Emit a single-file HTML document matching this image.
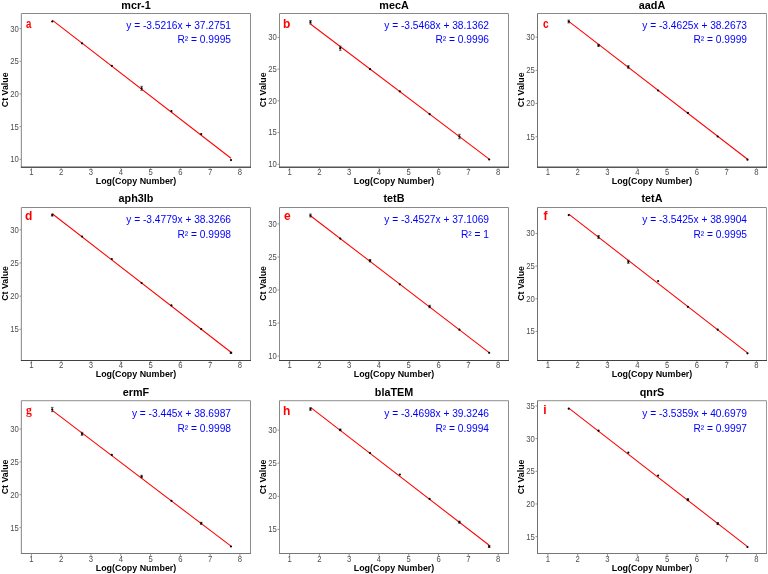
<!DOCTYPE html>
<html><head><meta charset="utf-8"><style>
html,body{margin:0;padding:0;background:#fff;}
svg{display:block;will-change:transform;}
text{font-family:"Liberation Sans",sans-serif;}
.tt{font-size:10.4px;font-weight:bold;text-anchor:middle;fill:#000;}
.at{font-size:9.3px;font-weight:bold;fill:#000;}
.yl{font-size:8.4px;text-anchor:end;fill:#4d4d4d;}
.xl{font-size:8.4px;text-anchor:middle;fill:#4d4d4d;}
.tk{stroke:#4d4d4d;stroke-width:0.6;}
.bd{fill:none;stroke:#8c8c8c;stroke-width:1;}
.bd2{fill:none;stroke:#7a7a7a;stroke-width:1.15;}
.rl{stroke:#f00;stroke-width:1.05;}
.pt{fill:#000;}
.eb{fill:none;stroke:#222;stroke-width:0.7;}
.lt{font-size:12px;font-weight:bold;fill:#f00;}
.lts{font-family:"Liberation Serif",serif;font-size:11.7px;}
.eq{font-size:10.2px;text-anchor:end;fill:#00f;}
</style></head><body>
<svg width="768" height="574" viewBox="0 0 768 574">
<rect width="768" height="574" fill="#fff"/>
<g><text transform="translate(136 8.6) scale(1.04 1)" class="tt">mcr-1</text><line x1="19.5" y1="159.3" x2="21.5" y2="159.3" class="tk"/><text transform="translate(18.9 162.2) scale(0.92 1)" class="yl">10</text><line x1="19.5" y1="126.63" x2="21.5" y2="126.63" class="tk"/><text transform="translate(18.9 129.53) scale(0.92 1)" class="yl">15</text><line x1="19.5" y1="93.95" x2="21.5" y2="93.95" class="tk"/><text transform="translate(18.9 96.85) scale(0.92 1)" class="yl">20</text><line x1="19.5" y1="61.28" x2="21.5" y2="61.28" class="tk"/><text transform="translate(18.9 64.18) scale(0.92 1)" class="yl">25</text><line x1="19.5" y1="28.6" x2="21.5" y2="28.6" class="tk"/><text transform="translate(18.9 31.5) scale(0.92 1)" class="yl">30</text><line x1="31.4" y1="166.9" x2="31.4" y2="168.9" class="tk"/><text transform="translate(31.4 174.8) scale(0.92 1)" class="xl">1</text><line x1="61.19" y1="166.9" x2="61.19" y2="168.9" class="tk"/><text transform="translate(61.19 174.8) scale(0.92 1)" class="xl">2</text><line x1="90.98" y1="166.9" x2="90.98" y2="168.9" class="tk"/><text transform="translate(90.98 174.8) scale(0.92 1)" class="xl">3</text><line x1="120.77" y1="166.9" x2="120.77" y2="168.9" class="tk"/><text transform="translate(120.77 174.8) scale(0.92 1)" class="xl">4</text><line x1="150.56" y1="166.9" x2="150.56" y2="168.9" class="tk"/><text transform="translate(150.56 174.8) scale(0.92 1)" class="xl">5</text><line x1="180.35" y1="166.9" x2="180.35" y2="168.9" class="tk"/><text transform="translate(180.35 174.8) scale(0.92 1)" class="xl">6</text><line x1="210.14" y1="166.9" x2="210.14" y2="168.9" class="tk"/><text transform="translate(210.14 174.8) scale(0.92 1)" class="xl">7</text><line x1="239.93" y1="166.9" x2="239.93" y2="168.9" class="tk"/><text transform="translate(239.93 174.8) scale(0.92 1)" class="xl">8</text><text x="95.75" y="183.5" class="at" textLength="80.5" lengthAdjust="spacingAndGlyphs">Log(Copy Number)</text><text x="8.1" y="89.8" class="at" transform="rotate(-90 8.1 89.8)"><tspan x="-9.3" textLength="34.8" lengthAdjust="spacingAndGlyphs">Ct Value</tspan></text><line x1="52.25" y1="20.18" x2="230.99" y2="158.26" class="rl"/><circle cx="52.25" cy="21.5" r="1.1" class="pt"/><circle cx="82.04" cy="43.3" r="1.1" class="pt"/><circle cx="111.83" cy="65.8" r="1.1" class="pt"/><path d="M141.62 86.3V90.3M140.32 86.3H142.92M140.32 90.3H142.92" class="eb"/><circle cx="141.62" cy="88.3" r="1.1" class="pt"/><circle cx="171.41" cy="111.05" r="1.1" class="pt"/><circle cx="201.2" cy="134.05" r="1.1" class="pt"/><circle cx="230.99" cy="160.1" r="1.1" class="pt"/><line x1="21.4" y1="13.5" x2="250.5" y2="13.5" stroke="#888" stroke-width="1"/><line x1="250.5" y1="13.5" x2="250.5" y2="167.2" stroke="#8c8c8c" stroke-width="1"/><line x1="21.4" y1="13.5" x2="21.4" y2="167.2" stroke="#999" stroke-width="1.2"/><line x1="20.9" y1="167.2" x2="251" y2="167.2" stroke="#555" stroke-width="1.4"/><text transform="translate(25.9 27.9) scale(0.8 1)" class="lt">a</text><text transform="translate(231 28.9) scale(1.0 1)" class="eq">y = -3.5216x + 37.2751</text><text transform="translate(231 43.4) scale(1.0 1)" class="eq">R² = 0.9995</text></g>
<g><text transform="translate(394 8.6) scale(1.04 1)" class="tt">mecA</text><line x1="277.5" y1="164.3" x2="279.5" y2="164.3" class="tk"/><text transform="translate(276.9 167.2) scale(0.92 1)" class="yl">10</text><line x1="277.5" y1="132.58" x2="279.5" y2="132.58" class="tk"/><text transform="translate(276.9 135.48) scale(0.92 1)" class="yl">15</text><line x1="277.5" y1="100.85" x2="279.5" y2="100.85" class="tk"/><text transform="translate(276.9 103.75) scale(0.92 1)" class="yl">20</text><line x1="277.5" y1="69.12" x2="279.5" y2="69.12" class="tk"/><text transform="translate(276.9 72.03) scale(0.92 1)" class="yl">25</text><line x1="277.5" y1="37.4" x2="279.5" y2="37.4" class="tk"/><text transform="translate(276.9 40.3) scale(0.92 1)" class="yl">30</text><line x1="289.6" y1="166.9" x2="289.6" y2="168.9" class="tk"/><text transform="translate(289.6 174.8) scale(0.92 1)" class="xl">1</text><line x1="319.39" y1="166.9" x2="319.39" y2="168.9" class="tk"/><text transform="translate(319.39 174.8) scale(0.92 1)" class="xl">2</text><line x1="349.18" y1="166.9" x2="349.18" y2="168.9" class="tk"/><text transform="translate(349.18 174.8) scale(0.92 1)" class="xl">3</text><line x1="378.97" y1="166.9" x2="378.97" y2="168.9" class="tk"/><text transform="translate(378.97 174.8) scale(0.92 1)" class="xl">4</text><line x1="408.76" y1="166.9" x2="408.76" y2="168.9" class="tk"/><text transform="translate(408.76 174.8) scale(0.92 1)" class="xl">5</text><line x1="438.55" y1="166.9" x2="438.55" y2="168.9" class="tk"/><text transform="translate(438.55 174.8) scale(0.92 1)" class="xl">6</text><line x1="468.34" y1="166.9" x2="468.34" y2="168.9" class="tk"/><text transform="translate(468.34 174.8) scale(0.92 1)" class="xl">7</text><line x1="498.13" y1="166.9" x2="498.13" y2="168.9" class="tk"/><text transform="translate(498.13 174.8) scale(0.92 1)" class="xl">8</text><text x="353.75" y="183.5" class="at" textLength="80.5" lengthAdjust="spacingAndGlyphs">Log(Copy Number)</text><text x="266.1" y="89.8" class="at" transform="rotate(-90 266.1 89.8)"><tspan x="248.7" textLength="34.8" lengthAdjust="spacingAndGlyphs">Ct Value</tspan></text><line x1="310.45" y1="24.03" x2="489.19" y2="159.06" class="rl"/><path d="M310.45 20.5V23.9M309.15 20.5H311.75M309.15 23.9H311.75" class="eb"/><circle cx="310.45" cy="22.2" r="1.1" class="pt"/><path d="M340.24 46.1V50.3M338.94 46.1H341.54M338.94 50.3H341.54" class="eb"/><circle cx="340.24" cy="48.2" r="1.1" class="pt"/><circle cx="370.03" cy="69.2" r="1.1" class="pt"/><circle cx="399.82" cy="91.3" r="1.1" class="pt"/><circle cx="429.61" cy="114.2" r="1.1" class="pt"/><path d="M459.4 134.3V138.7M458.1 134.3H460.7M458.1 138.7H460.7" class="eb"/><circle cx="459.4" cy="136.5" r="1.1" class="pt"/><circle cx="489.19" cy="159.5" r="1.1" class="pt"/><line x1="279.5" y1="13.5" x2="508.5" y2="13.5" stroke="#888" stroke-width="1"/><line x1="508.5" y1="13.5" x2="508.5" y2="167.2" stroke="#8c8c8c" stroke-width="1"/><line x1="279.5" y1="13.5" x2="279.5" y2="167.2" stroke="#8a8a8a" stroke-width="1"/><line x1="279" y1="167.2" x2="509" y2="167.2" stroke="#555" stroke-width="1.4"/><text transform="translate(283 27.7) scale(1 1)" class="lt">b</text><text transform="translate(489 28.9) scale(1.0 1)" class="eq">y = -3.5468x + 38.1362</text><text transform="translate(489 43.4) scale(1.0 1)" class="eq">R² = 0.9996</text></g>
<g><text transform="translate(652 8.6) scale(1.04 1)" class="tt">aadA</text><line x1="535.5" y1="136.7" x2="537.5" y2="136.7" class="tk"/><text transform="translate(534.9 139.6) scale(0.92 1)" class="yl">15</text><line x1="535.5" y1="103.53" x2="537.5" y2="103.53" class="tk"/><text transform="translate(534.9 106.43) scale(0.92 1)" class="yl">20</text><line x1="535.5" y1="70.37" x2="537.5" y2="70.37" class="tk"/><text transform="translate(534.9 73.27) scale(0.92 1)" class="yl">25</text><line x1="535.5" y1="37.2" x2="537.5" y2="37.2" class="tk"/><text transform="translate(534.9 40.1) scale(0.92 1)" class="yl">30</text><line x1="547.9" y1="166.9" x2="547.9" y2="168.9" class="tk"/><text transform="translate(547.9 174.8) scale(0.92 1)" class="xl">1</text><line x1="577.69" y1="166.9" x2="577.69" y2="168.9" class="tk"/><text transform="translate(577.69 174.8) scale(0.92 1)" class="xl">2</text><line x1="607.48" y1="166.9" x2="607.48" y2="168.9" class="tk"/><text transform="translate(607.48 174.8) scale(0.92 1)" class="xl">3</text><line x1="637.27" y1="166.9" x2="637.27" y2="168.9" class="tk"/><text transform="translate(637.27 174.8) scale(0.92 1)" class="xl">4</text><line x1="667.06" y1="166.9" x2="667.06" y2="168.9" class="tk"/><text transform="translate(667.06 174.8) scale(0.92 1)" class="xl">5</text><line x1="696.85" y1="166.9" x2="696.85" y2="168.9" class="tk"/><text transform="translate(696.85 174.8) scale(0.92 1)" class="xl">6</text><line x1="726.64" y1="166.9" x2="726.64" y2="168.9" class="tk"/><text transform="translate(726.64 174.8) scale(0.92 1)" class="xl">7</text><line x1="756.43" y1="166.9" x2="756.43" y2="168.9" class="tk"/><text transform="translate(756.43 174.8) scale(0.92 1)" class="xl">8</text><text x="611.75" y="183.5" class="at" textLength="80.5" lengthAdjust="spacingAndGlyphs">Log(Copy Number)</text><text x="524.1" y="89.8" class="at" transform="rotate(-90 524.1 89.8)"><tspan x="506.7" textLength="34.8" lengthAdjust="spacingAndGlyphs">Ct Value</tspan></text><line x1="568.75" y1="21.41" x2="747.49" y2="159.21" class="rl"/><path d="M568.75 20.1V22.9M567.45 20.1H570.05M567.45 22.9H570.05" class="eb"/><circle cx="568.75" cy="21.5" r="1.1" class="pt"/><path d="M598.54 44.4V46.4M597.24 44.4H599.84M597.24 46.4H599.84" class="eb"/><circle cx="598.54" cy="45.4" r="1.1" class="pt"/><path d="M628.33 65.7V68.3M627.03 65.7H629.63M627.03 68.3H629.63" class="eb"/><circle cx="628.33" cy="67" r="1.1" class="pt"/><circle cx="658.12" cy="90.5" r="1.1" class="pt"/><circle cx="687.91" cy="112.9" r="1.1" class="pt"/><circle cx="717.7" cy="136.5" r="1.1" class="pt"/><circle cx="747.49" cy="159.7" r="1.1" class="pt"/><line x1="537.5" y1="13.5" x2="766.5" y2="13.5" stroke="#888" stroke-width="1"/><line x1="766.5" y1="13.5" x2="766.5" y2="167.2" stroke="#999" stroke-width="1"/><line x1="537.5" y1="13.5" x2="537.5" y2="167.2" stroke="#707070" stroke-width="1"/><line x1="537" y1="167.2" x2="767" y2="167.2" stroke="#555" stroke-width="1.4"/><text transform="translate(543 28) scale(0.85 1)" class="lt">c</text><text transform="translate(747 28.9) scale(1.0 1)" class="eq">y = -3.4625x + 38.2673</text><text transform="translate(747 43.4) scale(1.0 1)" class="eq">R² = 0.9999</text></g>
<g><text transform="translate(136 202.4) scale(1.04 1)" class="tt">aph3Ib</text><line x1="19.5" y1="329.3" x2="21.5" y2="329.3" class="tk"/><text transform="translate(18.9 332.2) scale(0.92 1)" class="yl">15</text><line x1="19.5" y1="296.13" x2="21.5" y2="296.13" class="tk"/><text transform="translate(18.9 299.03) scale(0.92 1)" class="yl">20</text><line x1="19.5" y1="262.97" x2="21.5" y2="262.97" class="tk"/><text transform="translate(18.9 265.87) scale(0.92 1)" class="yl">25</text><line x1="19.5" y1="229.8" x2="21.5" y2="229.8" class="tk"/><text transform="translate(18.9 232.7) scale(0.92 1)" class="yl">30</text><line x1="31.4" y1="360.4" x2="31.4" y2="362.4" class="tk"/><text transform="translate(31.4 368.3) scale(0.92 1)" class="xl">1</text><line x1="61.19" y1="360.4" x2="61.19" y2="362.4" class="tk"/><text transform="translate(61.19 368.3) scale(0.92 1)" class="xl">2</text><line x1="90.98" y1="360.4" x2="90.98" y2="362.4" class="tk"/><text transform="translate(90.98 368.3) scale(0.92 1)" class="xl">3</text><line x1="120.77" y1="360.4" x2="120.77" y2="362.4" class="tk"/><text transform="translate(120.77 368.3) scale(0.92 1)" class="xl">4</text><line x1="150.56" y1="360.4" x2="150.56" y2="362.4" class="tk"/><text transform="translate(150.56 368.3) scale(0.92 1)" class="xl">5</text><line x1="180.35" y1="360.4" x2="180.35" y2="362.4" class="tk"/><text transform="translate(180.35 368.3) scale(0.92 1)" class="xl">6</text><line x1="210.14" y1="360.4" x2="210.14" y2="362.4" class="tk"/><text transform="translate(210.14 368.3) scale(0.92 1)" class="xl">7</text><line x1="239.93" y1="360.4" x2="239.93" y2="362.4" class="tk"/><text transform="translate(239.93 368.3) scale(0.92 1)" class="xl">8</text><text x="95.75" y="377" class="at" textLength="80.5" lengthAdjust="spacingAndGlyphs">Log(Copy Number)</text><text x="8.1" y="283.45" class="at" transform="rotate(-90 8.1 283.45)"><tspan x="-9.3" textLength="34.8" lengthAdjust="spacingAndGlyphs">Ct Value</tspan></text><line x1="52.25" y1="213.79" x2="230.99" y2="352.21" class="rl"/><path d="M52.25 214.1V216.1M50.95 214.1H53.55M50.95 216.1H53.55" class="eb"/><circle cx="52.25" cy="215.1" r="1.1" class="pt"/><circle cx="82.04" cy="236.5" r="1.1" class="pt"/><circle cx="111.83" cy="259" r="1.1" class="pt"/><circle cx="141.62" cy="283" r="1.1" class="pt"/><circle cx="171.41" cy="305.4" r="1.1" class="pt"/><circle cx="201.2" cy="329.1" r="1.1" class="pt"/><path d="M230.99 352.2V353.4M229.69 352.2H232.29M229.69 353.4H232.29" class="eb"/><circle cx="230.99" cy="352.8" r="1.1" class="pt"/><line x1="21.4" y1="207.5" x2="250.5" y2="207.5" stroke="#888" stroke-width="1"/><line x1="250.5" y1="207.5" x2="250.5" y2="360.5" stroke="#8c8c8c" stroke-width="1"/><line x1="21.4" y1="207.5" x2="21.4" y2="360.5" stroke="#999" stroke-width="1.2"/><line x1="20.9" y1="360.5" x2="251" y2="360.5" stroke="#404040" stroke-width="1"/><text transform="translate(24.9 220.2) scale(1 1)" class="lt">d</text><text transform="translate(231 223) scale(1.0 1)" class="eq">y = -3.4779x + 38.3266</text><text transform="translate(231 237.5) scale(1.0 1)" class="eq">R² = 0.9998</text></g>
<g><text transform="translate(394 202.4) scale(1.04 1)" class="tt">tetB</text><line x1="277.5" y1="356.1" x2="279.5" y2="356.1" class="tk"/><text transform="translate(276.9 359) scale(0.92 1)" class="yl">10</text><line x1="277.5" y1="323.05" x2="279.5" y2="323.05" class="tk"/><text transform="translate(276.9 325.95) scale(0.92 1)" class="yl">15</text><line x1="277.5" y1="290" x2="279.5" y2="290" class="tk"/><text transform="translate(276.9 292.9) scale(0.92 1)" class="yl">20</text><line x1="277.5" y1="256.95" x2="279.5" y2="256.95" class="tk"/><text transform="translate(276.9 259.85) scale(0.92 1)" class="yl">25</text><line x1="277.5" y1="223.9" x2="279.5" y2="223.9" class="tk"/><text transform="translate(276.9 226.8) scale(0.92 1)" class="yl">30</text><line x1="289.6" y1="360.4" x2="289.6" y2="362.4" class="tk"/><text transform="translate(289.6 368.3) scale(0.92 1)" class="xl">1</text><line x1="319.39" y1="360.4" x2="319.39" y2="362.4" class="tk"/><text transform="translate(319.39 368.3) scale(0.92 1)" class="xl">2</text><line x1="349.18" y1="360.4" x2="349.18" y2="362.4" class="tk"/><text transform="translate(349.18 368.3) scale(0.92 1)" class="xl">3</text><line x1="378.97" y1="360.4" x2="378.97" y2="362.4" class="tk"/><text transform="translate(378.97 368.3) scale(0.92 1)" class="xl">4</text><line x1="408.76" y1="360.4" x2="408.76" y2="362.4" class="tk"/><text transform="translate(408.76 368.3) scale(0.92 1)" class="xl">5</text><line x1="438.55" y1="360.4" x2="438.55" y2="362.4" class="tk"/><text transform="translate(438.55 368.3) scale(0.92 1)" class="xl">6</text><line x1="468.34" y1="360.4" x2="468.34" y2="362.4" class="tk"/><text transform="translate(468.34 368.3) scale(0.92 1)" class="xl">7</text><line x1="498.13" y1="360.4" x2="498.13" y2="362.4" class="tk"/><text transform="translate(498.13 368.3) scale(0.92 1)" class="xl">8</text><text x="353.75" y="377" class="at" textLength="80.5" lengthAdjust="spacingAndGlyphs">Log(Copy Number)</text><text x="266.1" y="283.45" class="at" transform="rotate(-90 266.1 283.45)"><tspan x="248.7" textLength="34.8" lengthAdjust="spacingAndGlyphs">Ct Value</tspan></text><line x1="310.45" y1="215.72" x2="489.19" y2="352.66" class="rl"/><path d="M310.45 214V217M309.15 214H311.75M309.15 217H311.75" class="eb"/><circle cx="310.45" cy="215.5" r="1.1" class="pt"/><circle cx="340.24" cy="238.6" r="1.1" class="pt"/><path d="M370.03 259.5V261.9M368.73 259.5H371.33M368.73 261.9H371.33" class="eb"/><circle cx="370.03" cy="260.7" r="1.1" class="pt"/><circle cx="399.82" cy="284.3" r="1.1" class="pt"/><path d="M429.61 305.3V307.7M428.31 305.3H430.91M428.31 307.7H430.91" class="eb"/><circle cx="429.61" cy="306.5" r="1.1" class="pt"/><circle cx="459.4" cy="329.7" r="1.1" class="pt"/><circle cx="489.19" cy="352.8" r="1.1" class="pt"/><line x1="279.5" y1="207.5" x2="508.5" y2="207.5" stroke="#888" stroke-width="1"/><line x1="508.5" y1="207.5" x2="508.5" y2="360.5" stroke="#8c8c8c" stroke-width="1"/><line x1="279.5" y1="207.5" x2="279.5" y2="360.5" stroke="#8a8a8a" stroke-width="1"/><line x1="279" y1="360.5" x2="509" y2="360.5" stroke="#404040" stroke-width="1"/><text transform="translate(284.1 220.3) scale(1 1)" class="lt">e</text><text transform="translate(489 223) scale(1.0 1)" class="eq">y = -3.4527x + 37.1069</text><text transform="translate(489 237.5) scale(1.0 1)" class="eq">R² = 1</text></g>
<g><text transform="translate(652 202.4) scale(1.04 1)" class="tt">tetA</text><line x1="535.5" y1="331.4" x2="537.5" y2="331.4" class="tk"/><text transform="translate(534.9 334.3) scale(0.92 1)" class="yl">15</text><line x1="535.5" y1="298.77" x2="537.5" y2="298.77" class="tk"/><text transform="translate(534.9 301.67) scale(0.92 1)" class="yl">20</text><line x1="535.5" y1="266.13" x2="537.5" y2="266.13" class="tk"/><text transform="translate(534.9 269.03) scale(0.92 1)" class="yl">25</text><line x1="535.5" y1="233.5" x2="537.5" y2="233.5" class="tk"/><text transform="translate(534.9 236.4) scale(0.92 1)" class="yl">30</text><line x1="547.9" y1="360.4" x2="547.9" y2="362.4" class="tk"/><text transform="translate(547.9 368.3) scale(0.92 1)" class="xl">1</text><line x1="577.69" y1="360.4" x2="577.69" y2="362.4" class="tk"/><text transform="translate(577.69 368.3) scale(0.92 1)" class="xl">2</text><line x1="607.48" y1="360.4" x2="607.48" y2="362.4" class="tk"/><text transform="translate(607.48 368.3) scale(0.92 1)" class="xl">3</text><line x1="637.27" y1="360.4" x2="637.27" y2="362.4" class="tk"/><text transform="translate(637.27 368.3) scale(0.92 1)" class="xl">4</text><line x1="667.06" y1="360.4" x2="667.06" y2="362.4" class="tk"/><text transform="translate(667.06 368.3) scale(0.92 1)" class="xl">5</text><line x1="696.85" y1="360.4" x2="696.85" y2="362.4" class="tk"/><text transform="translate(696.85 368.3) scale(0.92 1)" class="xl">6</text><line x1="726.64" y1="360.4" x2="726.64" y2="362.4" class="tk"/><text transform="translate(726.64 368.3) scale(0.92 1)" class="xl">7</text><line x1="756.43" y1="360.4" x2="756.43" y2="362.4" class="tk"/><text transform="translate(756.43 368.3) scale(0.92 1)" class="xl">8</text><text x="611.75" y="377" class="at" textLength="80.5" lengthAdjust="spacingAndGlyphs">Log(Copy Number)</text><text x="524.1" y="283.45" class="at" transform="rotate(-90 524.1 283.45)"><tspan x="506.7" textLength="34.8" lengthAdjust="spacingAndGlyphs">Ct Value</tspan></text><line x1="568.75" y1="214.13" x2="747.49" y2="352.85" class="rl"/><circle cx="568.75" cy="215.1" r="1.1" class="pt"/><path d="M598.54 235.5V238.5M597.24 235.5H599.84M597.24 238.5H599.84" class="eb"/><circle cx="598.54" cy="237" r="1.1" class="pt"/><path d="M628.33 260.3V263.3M627.03 260.3H629.63M627.03 263.3H629.63" class="eb"/><circle cx="628.33" cy="261.8" r="1.1" class="pt"/><circle cx="658.12" cy="281.1" r="1.1" class="pt"/><circle cx="687.91" cy="306.8" r="1.1" class="pt"/><circle cx="717.7" cy="329.7" r="1.1" class="pt"/><circle cx="747.49" cy="353.3" r="1.1" class="pt"/><line x1="537.5" y1="207.5" x2="766.5" y2="207.5" stroke="#888" stroke-width="1"/><line x1="766.5" y1="207.5" x2="766.5" y2="360.5" stroke="#999" stroke-width="1"/><line x1="537.5" y1="207.5" x2="537.5" y2="360.5" stroke="#707070" stroke-width="1"/><line x1="537" y1="360.5" x2="767" y2="360.5" stroke="#404040" stroke-width="1"/><text transform="translate(543.5 220.1) scale(1 1)" class="lt">f</text><text transform="translate(747 223) scale(1.0 1)" class="eq">y = -3.5425x + 38.9904</text><text transform="translate(747 237.5) scale(1.0 1)" class="eq">R² = 0.9995</text></g>
<g><text transform="translate(136 395.9) scale(1.04 1)" class="tt">ermF</text><line x1="19.5" y1="527.6" x2="21.5" y2="527.6" class="tk"/><text transform="translate(18.9 530.5) scale(0.92 1)" class="yl">15</text><line x1="19.5" y1="494.73" x2="21.5" y2="494.73" class="tk"/><text transform="translate(18.9 497.63) scale(0.92 1)" class="yl">20</text><line x1="19.5" y1="461.87" x2="21.5" y2="461.87" class="tk"/><text transform="translate(18.9 464.77) scale(0.92 1)" class="yl">25</text><line x1="19.5" y1="429" x2="21.5" y2="429" class="tk"/><text transform="translate(18.9 431.9) scale(0.92 1)" class="yl">30</text><line x1="31.4" y1="553.9" x2="31.4" y2="555.9" class="tk"/><text transform="translate(31.4 561.8) scale(0.92 1)" class="xl">1</text><line x1="61.19" y1="553.9" x2="61.19" y2="555.9" class="tk"/><text transform="translate(61.19 561.8) scale(0.92 1)" class="xl">2</text><line x1="90.98" y1="553.9" x2="90.98" y2="555.9" class="tk"/><text transform="translate(90.98 561.8) scale(0.92 1)" class="xl">3</text><line x1="120.77" y1="553.9" x2="120.77" y2="555.9" class="tk"/><text transform="translate(120.77 561.8) scale(0.92 1)" class="xl">4</text><line x1="150.56" y1="553.9" x2="150.56" y2="555.9" class="tk"/><text transform="translate(150.56 561.8) scale(0.92 1)" class="xl">5</text><line x1="180.35" y1="553.9" x2="180.35" y2="555.9" class="tk"/><text transform="translate(180.35 561.8) scale(0.92 1)" class="xl">6</text><line x1="210.14" y1="553.9" x2="210.14" y2="555.9" class="tk"/><text transform="translate(210.14 561.8) scale(0.92 1)" class="xl">7</text><line x1="239.93" y1="553.9" x2="239.93" y2="555.9" class="tk"/><text transform="translate(239.93 561.8) scale(0.92 1)" class="xl">8</text><text x="95.75" y="570.5" class="at" textLength="80.5" lengthAdjust="spacingAndGlyphs">Log(Copy Number)</text><text x="8.1" y="476.95" class="at" transform="rotate(-90 8.1 476.95)"><tspan x="-9.3" textLength="34.8" lengthAdjust="spacingAndGlyphs">Ct Value</tspan></text><line x1="52.25" y1="410.32" x2="230.99" y2="546.19" class="rl"/><path d="M52.25 407.4V411.6M50.95 407.4H53.55M50.95 411.6H53.55" class="eb"/><circle cx="52.25" cy="409.5" r="1.1" class="pt"/><path d="M82.04 432.3V435.3M80.74 432.3H83.34M80.74 435.3H83.34" class="eb"/><circle cx="82.04" cy="433.8" r="1.1" class="pt"/><circle cx="111.83" cy="454.9" r="1.1" class="pt"/><path d="M141.62 475.3V477.7M140.32 475.3H142.92M140.32 477.7H142.92" class="eb"/><circle cx="141.62" cy="476.5" r="1.1" class="pt"/><circle cx="171.41" cy="500.8" r="1.1" class="pt"/><path d="M201.2 522.3V524.3M199.9 522.3H202.5M199.9 524.3H202.5" class="eb"/><circle cx="201.2" cy="523.3" r="1.1" class="pt"/><circle cx="230.99" cy="546.5" r="1.1" class="pt"/><line x1="21.4" y1="400.6" x2="250.5" y2="400.6" stroke="#a5a5a5" stroke-width="1.1"/><line x1="250.5" y1="400.6" x2="250.5" y2="553.5" stroke="#8c8c8c" stroke-width="1"/><line x1="21.4" y1="400.6" x2="21.4" y2="553.5" stroke="#999" stroke-width="1.2"/><line x1="20.9" y1="553.5" x2="251" y2="553.5" stroke="#777" stroke-width="1.1"/><text transform="translate(26 413.6) scale(1 1)" class="lt lts">g</text><text transform="translate(231 417.1) scale(1.0 1)" class="eq">y = -3.445x + 38.6987</text><text transform="translate(231 431.6) scale(1.0 1)" class="eq">R² = 0.9998</text></g>
<g><text transform="translate(394 395.9) scale(1.04 1)" class="tt">blaTEM</text><line x1="277.5" y1="529.4" x2="279.5" y2="529.4" class="tk"/><text transform="translate(276.9 532.3) scale(0.92 1)" class="yl">15</text><line x1="277.5" y1="496.3" x2="279.5" y2="496.3" class="tk"/><text transform="translate(276.9 499.2) scale(0.92 1)" class="yl">20</text><line x1="277.5" y1="463.2" x2="279.5" y2="463.2" class="tk"/><text transform="translate(276.9 466.1) scale(0.92 1)" class="yl">25</text><line x1="277.5" y1="430.1" x2="279.5" y2="430.1" class="tk"/><text transform="translate(276.9 433) scale(0.92 1)" class="yl">30</text><line x1="289.6" y1="553.9" x2="289.6" y2="555.9" class="tk"/><text transform="translate(289.6 561.8) scale(0.92 1)" class="xl">1</text><line x1="319.39" y1="553.9" x2="319.39" y2="555.9" class="tk"/><text transform="translate(319.39 561.8) scale(0.92 1)" class="xl">2</text><line x1="349.18" y1="553.9" x2="349.18" y2="555.9" class="tk"/><text transform="translate(349.18 561.8) scale(0.92 1)" class="xl">3</text><line x1="378.97" y1="553.9" x2="378.97" y2="555.9" class="tk"/><text transform="translate(378.97 561.8) scale(0.92 1)" class="xl">4</text><line x1="408.76" y1="553.9" x2="408.76" y2="555.9" class="tk"/><text transform="translate(408.76 561.8) scale(0.92 1)" class="xl">5</text><line x1="438.55" y1="553.9" x2="438.55" y2="555.9" class="tk"/><text transform="translate(438.55 561.8) scale(0.92 1)" class="xl">6</text><line x1="468.34" y1="553.9" x2="468.34" y2="555.9" class="tk"/><text transform="translate(468.34 561.8) scale(0.92 1)" class="xl">7</text><line x1="498.13" y1="553.9" x2="498.13" y2="555.9" class="tk"/><text transform="translate(498.13 561.8) scale(0.92 1)" class="xl">8</text><text x="353.75" y="570.5" class="at" textLength="80.5" lengthAdjust="spacingAndGlyphs">Log(Copy Number)</text><text x="266.1" y="476.95" class="at" transform="rotate(-90 266.1 476.95)"><tspan x="248.7" textLength="34.8" lengthAdjust="spacingAndGlyphs">Ct Value</tspan></text><line x1="310.45" y1="407.42" x2="489.19" y2="545.24" class="rl"/><path d="M310.45 407.8V410.4M309.15 407.8H311.75M309.15 410.4H311.75" class="eb"/><circle cx="310.45" cy="409.1" r="1.1" class="pt"/><path d="M340.24 429.1V430.7M338.94 429.1H341.54M338.94 430.7H341.54" class="eb"/><circle cx="340.24" cy="429.9" r="1.1" class="pt"/><circle cx="370.03" cy="453" r="1.1" class="pt"/><circle cx="399.82" cy="474.6" r="1.1" class="pt"/><circle cx="429.61" cy="498.9" r="1.1" class="pt"/><path d="M459.4 521.2V523.2M458.1 521.2H460.7M458.1 523.2H460.7" class="eb"/><circle cx="459.4" cy="522.2" r="1.1" class="pt"/><path d="M489.19 545.5V547.5M487.89 545.5H490.49M487.89 547.5H490.49" class="eb"/><circle cx="489.19" cy="546.5" r="1.1" class="pt"/><line x1="279.5" y1="400.6" x2="508.5" y2="400.6" stroke="#a5a5a5" stroke-width="1.1"/><line x1="508.5" y1="400.6" x2="508.5" y2="553.5" stroke="#8c8c8c" stroke-width="1"/><line x1="279.5" y1="400.6" x2="279.5" y2="553.5" stroke="#8a8a8a" stroke-width="1"/><line x1="279" y1="553.5" x2="509" y2="553.5" stroke="#777" stroke-width="1.1"/><text transform="translate(283.1 414.8) scale(1 1)" class="lt">h</text><text transform="translate(489 417.1) scale(1.0 1)" class="eq">y = -3.4698x + 39.3246</text><text transform="translate(489 431.6) scale(1.0 1)" class="eq">R² = 0.9994</text></g>
<g><text transform="translate(652 395.9) scale(1.04 1)" class="tt">qnrS</text><line x1="535.5" y1="536.6" x2="537.5" y2="536.6" class="tk"/><text transform="translate(534.9 539.5) scale(0.92 1)" class="yl">15</text><line x1="535.5" y1="503.95" x2="537.5" y2="503.95" class="tk"/><text transform="translate(534.9 506.85) scale(0.92 1)" class="yl">20</text><line x1="535.5" y1="471.3" x2="537.5" y2="471.3" class="tk"/><text transform="translate(534.9 474.2) scale(0.92 1)" class="yl">25</text><line x1="535.5" y1="438.65" x2="537.5" y2="438.65" class="tk"/><text transform="translate(534.9 441.55) scale(0.92 1)" class="yl">30</text><line x1="535.5" y1="406" x2="537.5" y2="406" class="tk"/><text transform="translate(534.9 408.9) scale(0.92 1)" class="yl">35</text><line x1="547.9" y1="553.9" x2="547.9" y2="555.9" class="tk"/><text transform="translate(547.9 561.8) scale(0.92 1)" class="xl">1</text><line x1="577.69" y1="553.9" x2="577.69" y2="555.9" class="tk"/><text transform="translate(577.69 561.8) scale(0.92 1)" class="xl">2</text><line x1="607.48" y1="553.9" x2="607.48" y2="555.9" class="tk"/><text transform="translate(607.48 561.8) scale(0.92 1)" class="xl">3</text><line x1="637.27" y1="553.9" x2="637.27" y2="555.9" class="tk"/><text transform="translate(637.27 561.8) scale(0.92 1)" class="xl">4</text><line x1="667.06" y1="553.9" x2="667.06" y2="555.9" class="tk"/><text transform="translate(667.06 561.8) scale(0.92 1)" class="xl">5</text><line x1="696.85" y1="553.9" x2="696.85" y2="555.9" class="tk"/><text transform="translate(696.85 561.8) scale(0.92 1)" class="xl">6</text><line x1="726.64" y1="553.9" x2="726.64" y2="555.9" class="tk"/><text transform="translate(726.64 561.8) scale(0.92 1)" class="xl">7</text><line x1="756.43" y1="553.9" x2="756.43" y2="555.9" class="tk"/><text transform="translate(756.43 561.8) scale(0.92 1)" class="xl">8</text><text x="611.75" y="570.5" class="at" textLength="80.5" lengthAdjust="spacingAndGlyphs">Log(Copy Number)</text><text x="524.1" y="476.95" class="at" transform="rotate(-90 524.1 476.95)"><tspan x="506.7" textLength="34.8" lengthAdjust="spacingAndGlyphs">Ct Value</tspan></text><line x1="568.75" y1="408.04" x2="747.49" y2="546.58" class="rl"/><circle cx="568.75" cy="408.7" r="1.1" class="pt"/><circle cx="598.54" cy="430.7" r="1.1" class="pt"/><circle cx="628.33" cy="452.7" r="1.1" class="pt"/><circle cx="658.12" cy="475.6" r="1.1" class="pt"/><path d="M687.91 498.7V500.7M686.61 498.7H689.21M686.61 500.7H689.21" class="eb"/><circle cx="687.91" cy="499.7" r="1.1" class="pt"/><path d="M717.7 522.6V524.6M716.4 522.6H719M716.4 524.6H719" class="eb"/><circle cx="717.7" cy="523.6" r="1.1" class="pt"/><circle cx="747.49" cy="547" r="1.1" class="pt"/><line x1="537.5" y1="400.6" x2="766.5" y2="400.6" stroke="#a5a5a5" stroke-width="1.1"/><line x1="766.5" y1="400.6" x2="766.5" y2="553.5" stroke="#999" stroke-width="1"/><line x1="537.5" y1="400.6" x2="537.5" y2="553.5" stroke="#707070" stroke-width="1"/><line x1="537" y1="553.5" x2="767" y2="553.5" stroke="#777" stroke-width="1.1"/><text transform="translate(543.2 413.9) scale(1 1)" class="lt">i</text><text transform="translate(747 417.1) scale(1.0 1)" class="eq">y = -3.5359x + 40.6979</text><text transform="translate(747 431.6) scale(1.0 1)" class="eq">R² = 0.9997</text></g>
</svg>
</body></html>
